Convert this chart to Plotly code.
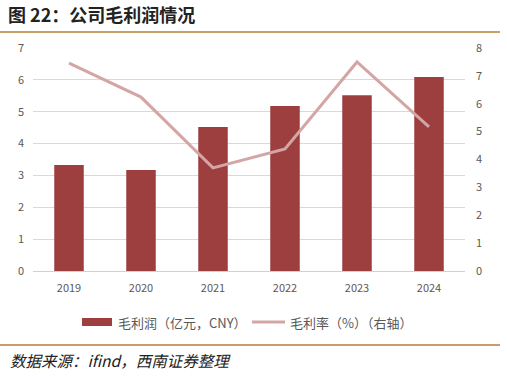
import plotly.graph_objects as go

years = ["2019", "2020", "2021", "2022", "2023", "2024"]
gross_profit = [3.33, 3.17, 4.52, 5.18, 5.52, 6.09]
gross_margin = [7.46, 6.24, 3.70, 4.38, 7.50, 5.17]
left_ticks = [0, 1, 2, 3, 4, 5, 6, 7]
right_ticks = [0, 1, 2, 3, 4, 5, 6, 7, 8]
bar_name = "毛利润（亿元，CNY）"
line_name = "毛利率（%）（右轴）"

font_cjk = "Noto Sans CJK SC"
bar_color = "#9E3F3F"
line_color = "#D4A5A5"
rule_color = "#C9A063"

W, H = 507, 376
ML, MR, MT, MB = 33, 42, 48, 105
pw = W - ML - MR
ph = H - MT - MB

def px(x):
    return (x - ML) / pw

def py(y):
    return (H - MB - y) / ph

fig = go.Figure()
fig.add_trace(go.Bar(
    x=years, y=gross_profit, name=bar_name,
    marker=dict(color=bar_color, line=dict(width=0)),
    width=0.41, yaxis="y",
))
fig.add_trace(go.Scatter(
    x=years, y=gross_margin, name=line_name,
    mode="lines", line=dict(color=line_color, width=3), yaxis="y2",
))

fig.update_layout(
    width=W, height=H,
    paper_bgcolor="white", plot_bgcolor="white",
    margin=dict(l=ML, r=MR, t=MT, b=MB, autoexpand=False),
    font=dict(family=font_cjk, size=11, color="#595959"),
    showlegend=False,
    xaxis=dict(showgrid=False, showline=True, linecolor="#D0D0D0", linewidth=1,
               tickfont=dict(size=11, color="#595959"), ticks="", automargin=False,
               ticklabelstandoff=7),
    yaxis=dict(range=[0, 7], tickvals=left_ticks, showgrid=True, gridcolor="#D9D9D9",
               gridwidth=1, zeroline=False, showline=False, ticklabelstandoff=8,
               tickfont=dict(size=11, color="#595959"), automargin=False),
    yaxis2=dict(range=[0, 8], tickvals=right_ticks, overlaying="y", side="right",
                showgrid=False, zeroline=False, showline=False, ticklabelstandoff=10,
                tickfont=dict(size=11, color="#595959"), automargin=False),
)

# title and source
fig.add_annotation(text="<b>图 22：公司毛利润情况</b>", xref="paper", yref="paper",
                   x=px(6), xanchor="left", y=py(14), yanchor="middle",
                   showarrow=False, font=dict(size=18, color="#222222", family=font_cjk))
fig.add_annotation(text="<i>数据来源：ifind，西南证券整理</i>", xref="paper", yref="paper",
                   x=px(8), xanchor="left", y=py(360), yanchor="middle",
                   showarrow=False, font=dict(size=15.5, color="#222222", family=font_cjk))

# rules
for yy in (32, 345):
    fig.add_shape(type="line", xref="paper", yref="paper", x0=px(0), x1=px(500),
                  y0=py(yy), y1=py(yy), line=dict(color=rule_color, width=2))

# manual legend
ly = 322
fig.add_shape(type="rect", xref="paper", yref="paper", x0=px(82), x1=px(112),
              y0=py(326), y1=py(318), line=dict(width=0), fillcolor=bar_color)
fig.add_annotation(text=bar_name, xref="paper", yref="paper", x=px(116), xanchor="left",
                   y=py(ly), yanchor="middle", showarrow=False,
                   font=dict(size=13, color="#595959", family=font_cjk))
fig.add_shape(type="line", xref="paper", yref="paper", x0=px(252), x1=px(285),
              y0=py(ly), y1=py(ly), line=dict(color=line_color, width=3))
fig.add_annotation(text=line_name, xref="paper", yref="paper", x=px(288), xanchor="left",
                   y=py(ly), yanchor="middle", showarrow=False,
                   font=dict(size=13, color="#595959", family=font_cjk))

fig.write_html("out.html", config={"displayModeBar": False},
               post_script="document.body.style.margin='0';document.body.style.overflow='hidden';")
